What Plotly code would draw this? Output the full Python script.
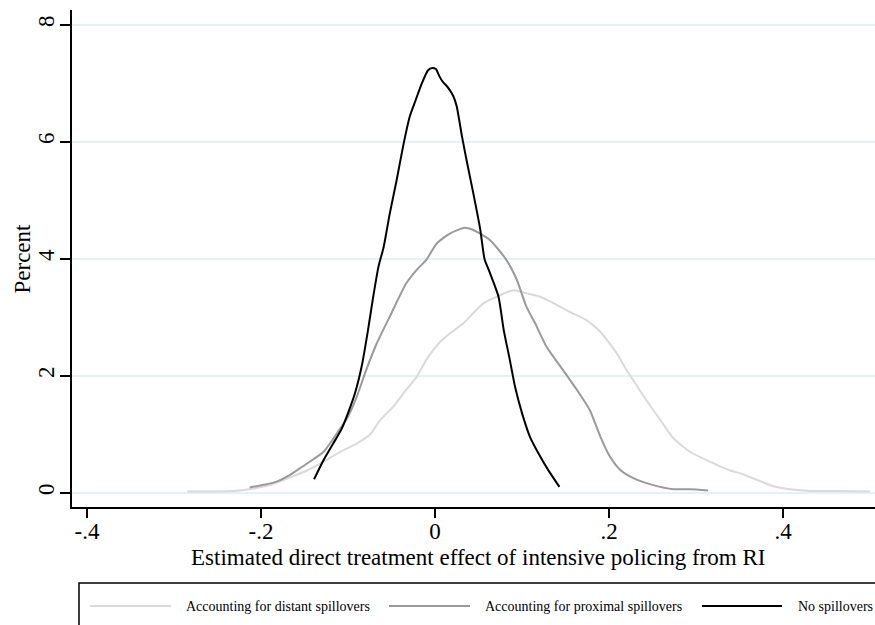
import plotly.graph_objects as go

# ---- data ----
distant_x = [-0.285, -0.232, -0.213, -0.190, -0.167, -0.147, -0.128, -0.109, -0.090, -0.075,
             -0.063, -0.048, -0.033, -0.021, -0.010, 0.006, 0.017, 0.033, 0.044, 0.056,
             0.071, 0.090, 0.105, 0.121, 0.136, 0.155, 0.174, 0.190, 0.209, 0.220,
             0.230, 0.243, 0.259, 0.274, 0.293, 0.316, 0.339, 0.351, 0.370, 0.389,
             0.408, 0.431, 0.462, 0.500]
distant_y = [0.02, 0.03, 0.06, 0.13, 0.26, 0.38, 0.53, 0.70, 0.84, 0.99,
             1.24, 1.47, 1.76, 1.98, 2.27, 2.58, 2.72, 2.90, 3.07, 3.24,
             3.35, 3.46, 3.41, 3.35, 3.24, 3.09, 2.95, 2.75, 2.38, 2.10,
             1.87, 1.58, 1.24, 0.93, 0.70, 0.53, 0.38, 0.33, 0.22, 0.11,
             0.06, 0.03, 0.03, 0.02]

proximal_x = [-0.213, -0.195, -0.182, -0.167, -0.159, -0.147, -0.128, -0.113, -0.100, -0.090,
              -0.079, -0.067, -0.052, -0.033, -0.021, -0.010, 0.002, 0.017, 0.034, 0.044,
              0.063, 0.082, 0.094, 0.105, 0.115, 0.128, 0.147, 0.163, 0.178, 0.190,
              0.201, 0.213, 0.228, 0.251, 0.274, 0.293, 0.314]
proximal_y = [0.09, 0.14, 0.19, 0.30, 0.38, 0.50, 0.70, 1.01, 1.30, 1.64,
              2.10, 2.55, 3.01, 3.58, 3.81, 3.98, 4.26, 4.43, 4.53, 4.49,
              4.32, 3.98, 3.64, 3.18, 2.90, 2.50, 2.10, 1.76, 1.41, 0.96,
              0.62, 0.39, 0.25, 0.13, 0.06, 0.06, 0.04]

none_x = [-0.139, -0.128, -0.117, -0.107, -0.100, -0.092, -0.084, -0.077, -0.071, -0.065,
          -0.059, -0.052, -0.044, -0.036, -0.029, -0.022, -0.015, -0.008, -0.003, 0.001,
          0.005, 0.009, 0.013, 0.017, 0.021, 0.025, 0.031, 0.037, 0.044, 0.052,
          0.057, 0.062, 0.073, 0.079, 0.086, 0.092, 0.100, 0.109, 0.119, 0.130, 0.143]
none_y = [0.23, 0.56, 0.84, 1.10, 1.36, 1.70, 2.18, 2.78, 3.35, 3.86,
          4.20, 4.77, 5.35, 5.97, 6.43, 6.72, 7.00, 7.22, 7.26, 7.24,
          7.12, 7.02, 6.96, 6.88, 6.78, 6.60, 6.09, 5.63, 5.12, 4.50,
          3.99, 3.80, 3.35, 2.78, 2.27, 1.81, 1.36, 0.96, 0.67, 0.39, 0.10]

series_names = ["Accounting for distant spillovers", "Accounting for proximal spillovers", "No spillovers"]
series_colors = ["#dadada", "#9a9a9a", "#000000"]

x_tickvals = [-0.4, -0.2, 0, 0.2, 0.4]
x_ticktext = ["-.4", "-.2", "0", ".2", ".4"]
y_tickvals = [0, 2, 4, 6, 8]
y_ticktext = ["0", "2", "4", "6", "8"]

x_title = "Estimated direct treatment effect of intensive policing from RI"
y_title = "Percent"

FONT = "Liberation Serif"

fig = go.Figure()
for xs, ys, name, col in zip([distant_x, proximal_x, none_x],
                             [distant_y, proximal_y, none_y],
                             series_names, series_colors):
    fig.add_trace(go.Scatter(x=xs, y=ys, mode="lines", name=name,
                             line=dict(color=col, width=2, shape="spline", smoothing=0.6),
                             showlegend=False))

fig.update_layout(
    width=875, height=625,
    margin=dict(l=72, r=0, t=10, b=118),
    paper_bgcolor="white", plot_bgcolor="white",
    font=dict(family=FONT, size=23, color="black"),
)
fig.update_xaxes(range=[-0.4172, 0.5057], tickvals=x_tickvals, ticktext=x_ticktext,
                 showgrid=False, zeroline=False, showline=True, linecolor="black", linewidth=1.5,
                 ticks="outside", ticklen=9, tickwidth=1.5, tickcolor="black",
                 ticklabelstandoff=-6,
                 tickfont=dict(family=FONT, size=23))
fig.update_yaxes(range=[-0.244, 8.25], tickvals=y_tickvals, ticktext=y_ticktext,
                 showgrid=True, gridcolor="#e9f0f2", gridwidth=1.5,
                 zeroline=False, showline=True, linecolor="black", linewidth=1.5,
                 ticks="outside", ticklen=10, tickwidth=1.5, tickcolor="black",
                 ticklabelstandoff=-3,
                 tickangle=-90, tickfont=dict(family=FONT, size=23))

def px_x(p):
    return (p - 72) / 803.0

def px_y(p):
    return (507 - p) / 497.0

# axis titles
fig.add_annotation(xref="paper", yref="paper", x=px_x(478), y=px_y(557), text=x_title,
                   showarrow=False, xanchor="center", yanchor="middle",
                   font=dict(family=FONT, size=23, color="black"))
fig.add_annotation(xref="paper", yref="paper", x=px_x(22), y=px_y(258.5), text=y_title,
                   showarrow=False, xanchor="center", yanchor="middle", textangle=-90,
                   font=dict(family=FONT, size=23, color="black"))

# manual legend (Stata-style wide line samples)
fig.add_shape(type="rect", xref="paper", yref="paper",
              x0=px_x(79), x1=px_x(890), y0=px_y(583), y1=px_y(660),
              line=dict(color="black", width=1.5), fillcolor="rgba(0,0,0,0)")
sample_x = [(90, 171), (389, 470), (702, 782)]
text_x = [184, 483, 796]
for (a, b), tx, name, col in zip(sample_x, text_x, series_names, series_colors):
    fig.add_shape(type="line", xref="paper", yref="paper",
                  x0=px_x(a), x1=px_x(b), y0=px_y(606), y1=px_y(606),
                  line=dict(color=col, width=2))
    fig.add_annotation(xref="paper", yref="paper", x=px_x(tx), y=px_y(606),
                       text=name, showarrow=False, xanchor="left", yanchor="middle",
                       font=dict(family=FONT, size=14, color="black"))

fig.write_html("out.html")
